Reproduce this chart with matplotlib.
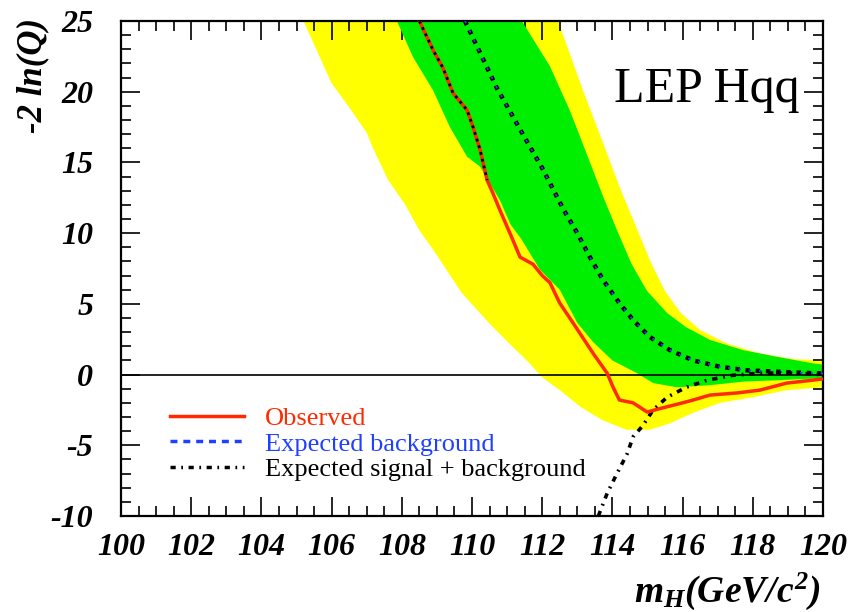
import numpy as np
import matplotlib
matplotlib.use("Agg")
import matplotlib.pyplot as plt
from matplotlib.ticker import MultipleLocator
from matplotlib.lines import Line2D

plt.rcParams['font.family'] = 'serif'
plt.rcParams['font.serif'] = ['Liberation Serif', 'DejaVu Serif']
plt.rcParams['axes.unicode_minus'] = False
plt.rcParams['mathtext.fontset'] = 'custom'
plt.rcParams['mathtext.rm'] = 'Liberation Serif:bold:italic'
plt.rcParams['mathtext.it'] = 'Liberation Serif:bold:italic'

# observed -2lnQ
obs_x = [108.5, 108.9, 109.17, 109.46, 109.86, 110.03, 110.23, 110.43, 110.6, 110.8,
         111.08, 111.37, 111.74, 112.0, 112.22, 112.5, 112.88, 113.45, 113.85, 114.02,
         114.2, 114.59, 114.99, 115.36, 116.0, 116.3, 116.78, 117.55, 118.2, 118.97,
         119.7, 120.0]
obs_y = [25.0, 22.9, 21.7, 19.9, 18.7, 17.5, 15.9, 13.75, 12.8, 11.6,
         10.0, 8.3, 7.8, 7.0, 6.5, 5.05, 3.65, 1.5, 0.1, -0.9,
         -1.8, -2.0, -2.65, -2.4, -2.0, -1.8, -1.45, -1.3, -1.1, -0.6,
         -0.4, -0.3]

# expected background
bkg_x = [109.8, 110.7, 111.4, 112.0, 112.6, 113.0, 113.36, 113.73, 114.2, 114.59,
         115.07, 115.64, 116.3, 117.07, 117.83, 118.7, 119.7, 120.0]
bkg_y = [25.0, 20.3, 17.2, 14.6, 11.7, 10.0, 8.3, 6.7, 5.05, 3.85,
         2.65, 1.73, 1.0, 0.55, 0.3, 0.2, 0.1, 0.08]

# expected signal + background
sb_x = [113.6, 113.85, 114.13, 114.42, 114.59, 114.87, 115.16, 115.56, 116.1, 116.7,
        117.43, 118.2, 119.15, 120.0]
sb_y = [-10.0, -8.4, -7.0, -5.6, -4.4, -3.6, -2.5, -1.6, -0.9, -0.4,
        -0.05, 0.1, 0.1, 0.0]

# 1 sigma band edges
g_lo_x = [107.86, 108.32, 108.89, 109.37, 109.86, 110.23, 110.8, 111.1, 111.4, 111.94,
          112.5, 113.0, 113.45, 114.0, 114.7, 115.16, 115.84, 116.78, 117.72, 118.7, 120.0]
g_lo_y = [25.0, 22.45, 20.1, 17.5, 15.4, 14.7, 12.3, 10.6, 9.6, 7.4,
          6.0, 3.65, 2.3, 1.0, 0.1, -0.6, -0.9, -0.75, -0.5, -0.4, -0.25]
g_hi_x = [111.42, 112.22, 112.8, 113.3, 113.75, 114.15, 114.55, 114.99, 115.56, 116.1,
          116.78, 117.72, 118.7, 119.7, 120.0]
g_hi_y = [25.0, 21.8, 18.6, 15.4, 12.5, 10.1, 7.8, 5.9, 4.35, 3.35,
          2.45, 1.73, 1.25, 0.8, 0.7]

# 2 sigma band edges
y_lo_x = [105.2, 105.6, 106.0, 106.5, 107.0, 107.2, 107.6, 108.1, 108.5, 108.9,
          109.7, 110.5, 111.1, 111.6, 112.0, 112.5, 113.1, 113.7, 114.4, 115.07,
          115.64, 116.3, 117.07, 118.0, 118.97, 120.0]
y_lo_y = [25.0, 22.8, 20.6, 18.9, 17.1, 15.9, 13.8, 12.0, 10.2, 8.8,
          5.8, 3.6, 2.1, 0.9, -0.2, -1.1, -2.3, -3.2, -3.9, -3.9,
          -3.45, -2.7, -2.0, -1.6, -1.1, -0.9]
y_hi_x = [112.45, 113.16, 113.7, 114.2, 114.7, 115.1, 115.5, 115.95, 116.5, 117.26,
          118.2, 119.15, 120.0]
y_hi_y = [25.0, 20.1, 16.6, 13.3, 10.3, 7.9, 5.9, 4.35, 3.15, 2.2,
          1.5, 1.1, 1.0]

RED = '#ff2a00'
BLUE = '#2040ff'

fig = plt.figure(figsize=(8.53, 6.12), dpi=100)
ax = fig.add_axes([121/853, 96/612, 702/853, 495/612])

ax.fill(y_lo_x + y_hi_x[::-1], y_lo_y + y_hi_y[::-1], color='#ffff00', lw=0, zorder=1)
ax.fill(g_lo_x + g_hi_x[::-1], g_lo_y + g_hi_y[::-1], color='#00ee00', lw=0, zorder=2)

ax.axhline(0, color='black', lw=1.2, zorder=3)

ax.plot(obs_x, obs_y, color=RED, lw=2.5, zorder=5)
ox = np.array(obs_x)
oy = np.array(obs_y)
top = oy > 13
ax.plot(ox[top], oy[top], color='black', lw=2.0, ls=(0, (1, 1.5)), zorder=6)

# background: black dashes with blue core
ax.plot(bkg_x, bkg_y, color='black', lw=3.2, ls=(0, (1, 1.3)), zorder=4)
ax.plot(bkg_x, bkg_y, color=BLUE, lw=1.3, ls=(0, (1.4, 4.3)), zorder=4)
ax.plot(sb_x, sb_y, color='black', lw=2.6, ls=(0, (1.5, 1.6, 0.5, 1.6)), zorder=4)

h_obs = Line2D([], [], color=RED, lw=2.5)
h_bkg = Line2D([], [], color=BLUE, lw=2.5, ls=(0, (2, 1.7)))
h_sb = Line2D([], [], color='black', lw=2.5, ls=(0, (1.5, 1.6, 0.5, 1.6)))

ax.set_xlim(100, 120)
ax.set_ylim(-10, 25)
ax.xaxis.set_major_locator(MultipleLocator(2))
ax.xaxis.set_minor_locator(MultipleLocator(0.5))
ax.yaxis.set_major_locator(MultipleLocator(5))
ax.yaxis.set_minor_locator(MultipleLocator(1))
ax.tick_params(which='both', direction='in', top=True, right=True, width=1.2)
ax.tick_params(which='major', length=13.5)
ax.tick_params(which='minor', length=7.5)
ax.tick_params(axis='x', pad=12)
ax.tick_params(axis='y', pad=20)
for sp in ax.spines.values():
    sp.set_linewidth(1.6)
for lbl in ax.get_xticklabels() + ax.get_yticklabels():
    lbl.set_fontsize(23)
    lbl.set_fontstyle('italic')
    lbl.set_fontweight('bold')

ax.text(0.967, 0.836, 'LEP Hqq', transform=ax.transAxes, ha='right', va='baseline',
        fontsize=36)

leg = ax.legend([h_obs, h_bkg, h_sb],
                ['Observed', 'Expected background', 'Expected signal + background'],
                loc='upper left', bbox_to_anchor=(0.0698, 0.221), borderaxespad=0,
                borderpad=0, frameon=False, fontsize=19, handlelength=2.8,
                handletextpad=0.8, labelspacing=0.08,
                labelcolor=[RED, BLUE, 'black'])

fig.text(0.039, 1 - 75/612, '-2 ln(Q)', rotation=90, ha='center', va='center',
         fontsize=25, fontstyle='italic', fontweight='bold')
fig.text(820/853, 10/612, r'$m_H(GeV/c^2)$', ha='right', va='baseline', fontsize=27)

fig.savefig('out.png', dpi=100)
